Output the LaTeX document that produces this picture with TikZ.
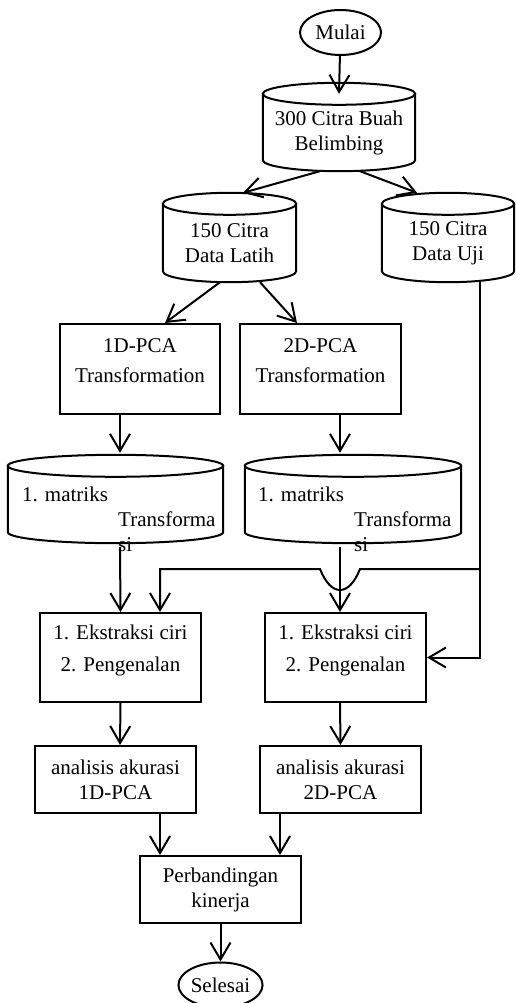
\documentclass[tikz,border=0pt]{standalone}
\usepackage{fontspec}
\setmainfont{Liberation Serif}
\usetikzlibrary{shapes.geometric,arrows.meta,calc}
% tabung (database) di sekeliling node persegi
\newcommand{\tabung}[1]{%
	\draw[garis] let \p1=(#1.west), \p2=(#1.east), \n1={(\x2-\x1)/2} in
		(#1.north) ellipse [x radius=\n1, y radius=11pt]
		(#1.north west) -- ([yshift=11pt]#1.south west)
		arc[start angle=180, end angle=360, x radius=\n1, y radius=11pt]
		-- (#1.north east);}
\begin{document}
\begin{tikzpicture}[x=1pt,y=-1pt,
	teks/.style={font=\fontsize{21}{25}\selectfont},
	garis/.style={line width=2pt},
	kotak/.style={teks,garis,draw,rectangle,align=center,minimum width=161pt,inner sep=0pt},
	db/.style={teks,rectangle,align=center,inner sep=0pt},
	bulat/.style={teks,garis,draw,ellipse,minimum width=81pt,minimum height=45pt,inner sep=0pt},
	panah/.style={garis,-{Straight Barb[length=17pt,width=20pt]}}]
	\useasboundingbox (0,0) rectangle (515,1003);

	\node[bulat] (mulai) at (340.5,32.5) {Mulai};
	\node[db,minimum width=152pt,minimum height=77pt] (buah) at (339,132.5) {300 Citra Buah\\Belimbing};

	\node[db,minimum width=133pt,minimum height=78pt] (latih) at (229.5,243) {150 Citra\\Data Latih};
	\node[db,minimum width=132pt,minimum height=78pt] (uji) at (448,243) {150 Citra\\Data Uji};

	\node[kotak,minimum width=160pt,minimum height=90pt] (pca1) at (140,369) {1D-PCA\\[5pt]Transformation\\[-9pt]\mbox{}};
	\node[kotak,minimum height=90pt] (pca2) at (320.5,369) {2D-PCA\\[5pt]Transformation\\[-9pt]\mbox{}};

	% matriks transformasi
	\node[db,minimum width=215pt,minimum height=77pt] (mat1) at (115.5,504.5) {};
	\node[db,minimum width=216pt,minimum height=77pt] (mat2) at (353,504.5) {};
	\node[teks,anchor=north west,align=left,inner sep=0pt] (tmat1) at ([xshift=-93.5pt,yshift=17.5pt]mat1.center) {1.\hspace{7pt}matriks\\\hspace*{96pt}Transforma\\\hspace*{96pt}si};
	\node[teks,anchor=north west,align=left,inner sep=0pt] (tmat2) at ([xshift=-95pt,yshift=17.5pt]mat2.center) {1.\hspace{7pt}matriks\\\hspace*{96pt}Transforma\\\hspace*{96pt}si};

	\node[kotak,minimum height=89pt] (eks1) at (120.5,657.5) {1. Ekstraksi ciri\\[7pt]2. Pengenalan\\[-6pt]\mbox{}};
	\node[kotak,minimum height=89pt] (eks2) at (345.5,657.5) {1. Ekstraksi ciri\\[7pt]2. Pengenalan\\[-6pt]\mbox{}};

	\node[kotak,minimum height=67pt] (ana1) at (115.5,779.5) {analisis akurasi\\1D-PCA};
	\node[kotak,minimum height=67pt] (ana2) at (340.5,779.5) {analisis akurasi\\2D-PCA};

	\node[kotak,minimum height=67pt] (banding) at (220.5,889.5) {Perbandingan\\kinerja};
	\node[bulat] (selesai) at (220.5,985) {Selesai};

	\tabung{buah}
	\tabung{latih}
	\tabung{uji}
	\tabung{mat1}
	\tabung{mat2}

	\draw[panah] (mulai) -- (buah.north);
	\draw[panah] ([xshift=-19pt]buah.south) -- ([xshift=13.5pt,yshift=11pt]latih.north);
	\draw[panah] ([xshift=21pt]buah.south) -- ([xshift=-31pt,yshift=11pt]uji.north);
	\draw[panah] ([xshift=-9.5pt]latih.south) -- ([xshift=25pt]pca1.north);
	\draw[panah] ([xshift=30.5pt]latih.south) -- ([xshift=-23.5pt]pca2.north);
	\draw[panah] ([xshift=-20pt]pca1.south) -- ([xshift=4.5pt,yshift=13pt]mat1.north);
	\draw[panah] ([xshift=19.5pt]pca2.south) -- ([xshift=-13pt,yshift=13pt]mat2.north);
	\draw[panah] ([xshift=4.5pt,yshift=-4pt]mat1.south) -- (eks1.north);
	\draw[panah] ([xshift=-13pt,yshift=-4pt]mat2.south) -- ([xshift=-5.5pt]eks2.north);

	% data uji ke pengenalan
	\draw[panah] ([xshift=32pt]uji.south) |- (eks2.east);
	\coordinate (cabang) at (480,569);
	\draw[panah] (cabang) -- (360,569) .. controls (349,597) and (331,597) .. (320,569) -| ([xshift=39.5pt]eks1.north);

	\draw[panah] (eks1.south) -- ([xshift=4.5pt]ana1.north);
	\draw[panah] ([xshift=-5.5pt]eks2.south) -- (ana2.north);
	\draw[panah] ([xshift=44.5pt]ana1.south) -- ([xshift=-60.5pt]banding.north);
	\draw[panah] ([xshift=-60.5pt]ana2.south) -- ([xshift=59.5pt]banding.north);
	\draw[panah] (banding) -- (selesai);
\end{tikzpicture}
\end{document}
